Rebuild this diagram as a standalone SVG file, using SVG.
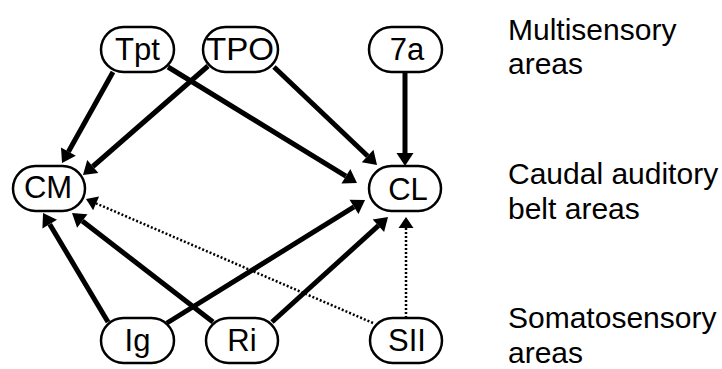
<svg xmlns="http://www.w3.org/2000/svg" width="722" height="369" viewBox="0 0 722 369">
<style>
.box{fill:#fff;stroke:#000;stroke-width:2.5}
.lbl{font-family:"Liberation Sans",Arial,sans-serif;font-size:31px;text-anchor:middle;fill:#000}
.side{font-family:"Liberation Sans",Arial,sans-serif;font-size:30px;fill:#000}
.e{stroke:#000;stroke-width:5;fill:none;marker-end:url(#ah)}
.d{stroke:#000;stroke-width:2.5;stroke-dasharray:2 2;fill:none;marker-end:url(#dh)}
</style>
<defs>
<marker id="ah" markerUnits="userSpaceOnUse" markerWidth="14" markerHeight="18" refX="0" refY="8.5" orient="auto" overflow="visible">
<path d="M0,0 L13,8.5 L0,17 z" fill="#000"/>
</marker>
<marker id="dh" markerUnits="userSpaceOnUse" markerWidth="12" markerHeight="16" refX="0" refY="7.5" orient="auto" overflow="visible">
<path d="M0,0 L11,7.5 L0,15 z" fill="#000"/>
</marker>
</defs>
<g id="connectors">
<line class="e" x1="113" y1="72" x2="68.4" y2="151.7"/>
<line class="e" x1="168" y1="67" x2="345.9" y2="176.2"/>
<line class="e" x1="208" y1="66" x2="92.8" y2="166.5"/>
<line class="e" x1="274" y1="67" x2="367.6" y2="156.0"/>
<line class="e" x1="405" y1="72" x2="405" y2="153"/>
<line class="e" x1="108" y1="322" x2="49.7" y2="224.2"/>
<line class="e" x1="213" y1="322" x2="82.3" y2="221.0"/>
<line class="e" x1="167" y1="323" x2="354.0" y2="206.9"/>
<line class="e" x1="272" y1="322" x2="378.4" y2="225.7"/>
<line class="d" x1="373" y1="323" x2="96.1" y2="203.4"/>
<line class="d" x1="406" y1="318" x2="406" y2="228"/>
</g>
<g id="Tpt"><rect class="box" x="101" y="27" width="73" height="45" rx="22.5"/><text class="lbl" x="137.5" y="60">Tpt</text></g>
<g id="TPO"><rect class="box" x="203" y="27" width="75" height="45" rx="22.5"/><text class="lbl" x="240" y="60" textLength="68" lengthAdjust="spacingAndGlyphs">TPO</text></g>
<g id="n7a"><rect class="box" x="369" y="27" width="73" height="45" rx="22.5"/><text class="lbl" x="407" y="60">7a</text></g>
<g id="CM"><rect class="box" x="13" y="166" width="72" height="45" rx="22.5"/><text class="lbl" x="48" y="198">CM</text></g>
<g id="CL"><rect class="box" x="369" y="166" width="72" height="45" rx="22.5"/><text class="lbl" x="408" y="199.5">CL</text></g>
<g id="Ig"><rect class="box" x="101" y="318" width="73" height="45" rx="22.5"/><text class="lbl" x="137.5" y="350.5">Ig</text></g>
<g id="Ri"><rect class="box" x="206" y="318" width="72" height="45" rx="22.5"/><text class="lbl" x="242" y="350.5">Ri</text></g>
<g id="SII"><rect class="box" x="370" y="318" width="72" height="45" rx="22.5"/><text class="lbl" x="407" y="350.5">SII</text></g>
<g id="legend">
<text class="side" x="508" y="40">Multisensory</text>
<text class="side" x="508" y="74">areas</text>
<text class="side" x="508" y="184">Caudal auditory</text>
<text class="side" x="508" y="219">belt areas</text>
<text class="side" x="508" y="328">Somatosensory</text>
<text class="side" x="508" y="363">areas</text>
</g>
</svg>
